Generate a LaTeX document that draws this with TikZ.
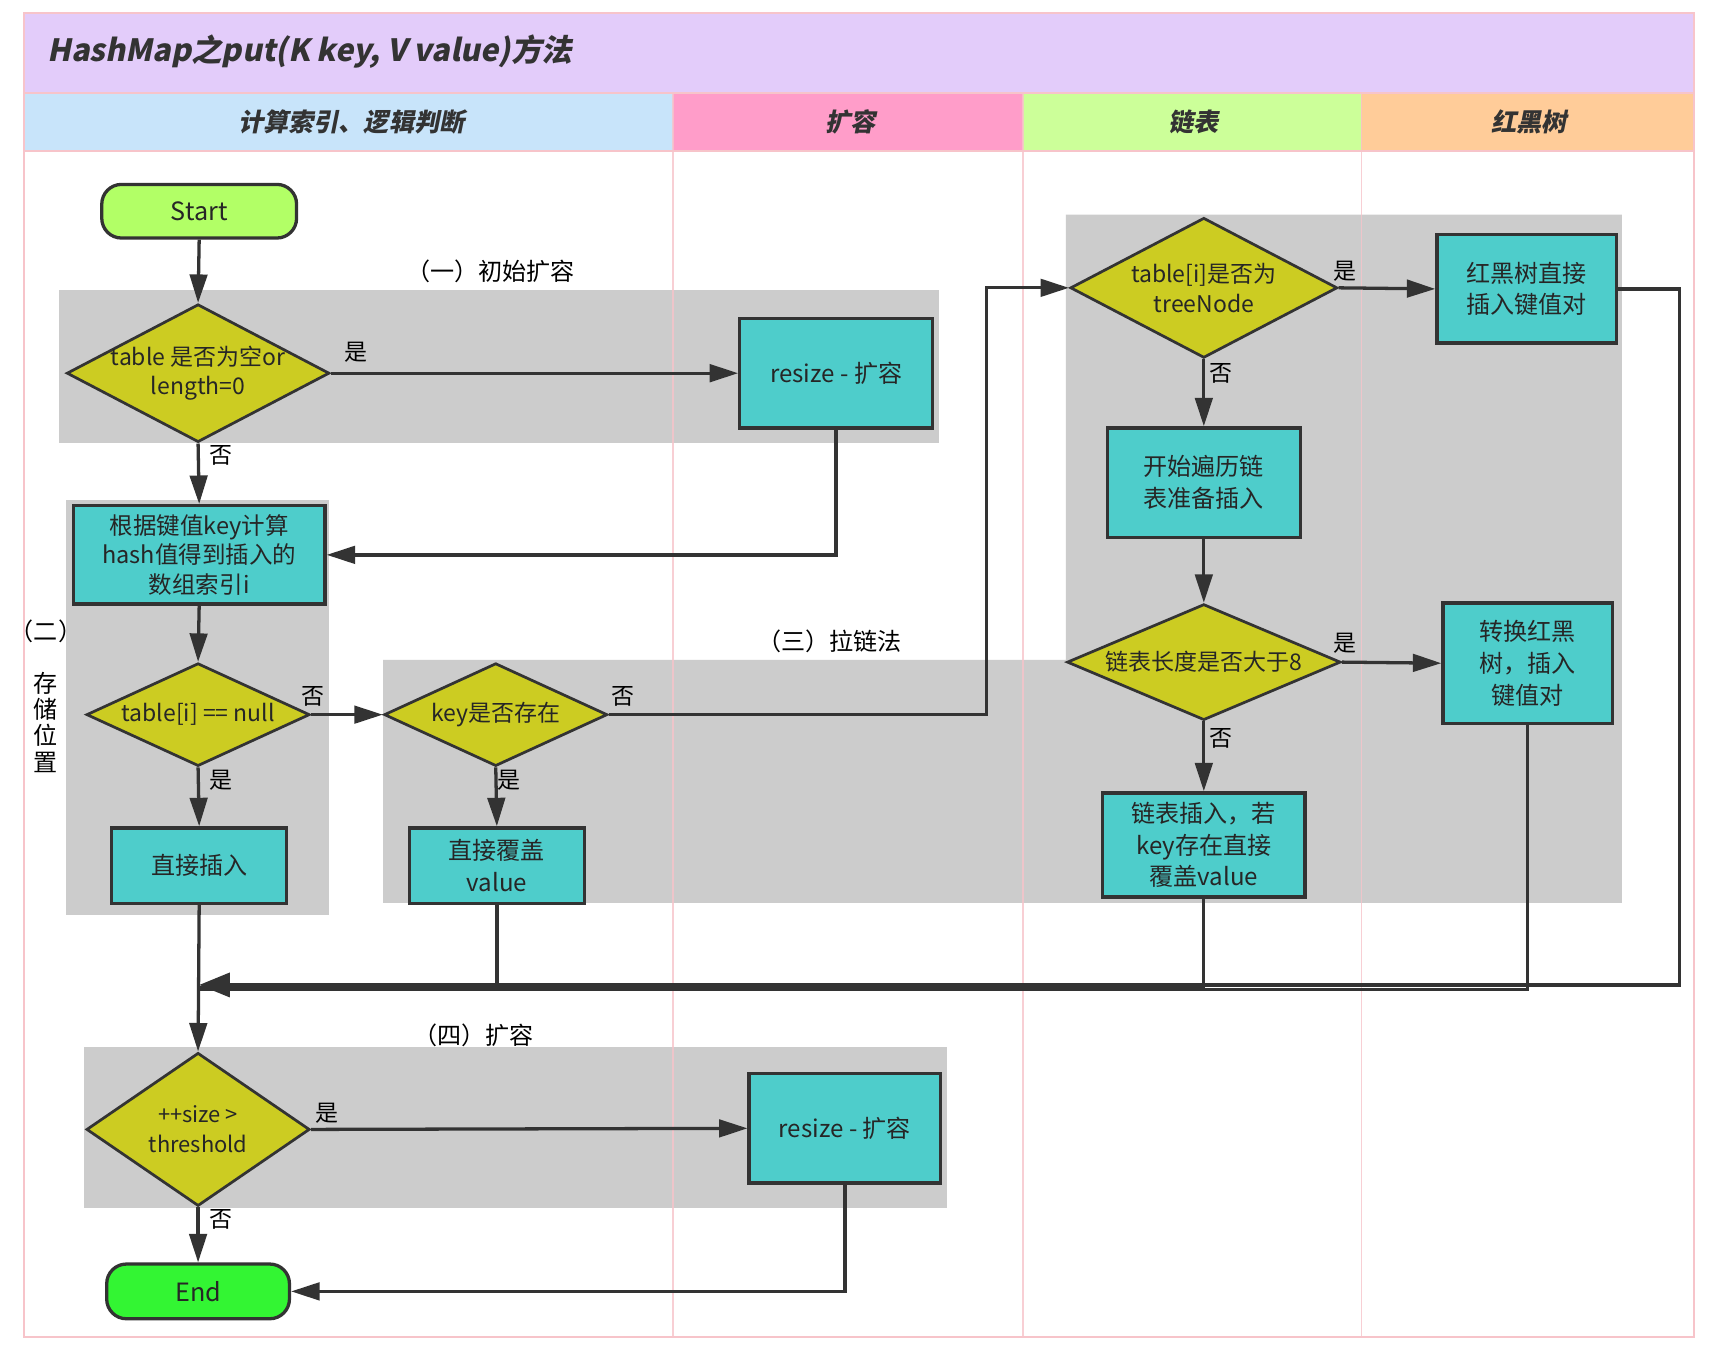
\documentclass[tikz,border=0pt]{standalone}
\usepackage{fontspec}
\setmainfont{Noto Sans CJK SC}
\newfontfamily\slfont[FakeSlant=0.2]{Noto Sans CJK SC}
\usetikzlibrary{shapes.geometric,arrows.meta,calc}
\definecolor{titlec}{HTML}{E3CCFA}
\definecolor{hA}{HTML}{C8E4FA}
\definecolor{hB}{HTML}{FF9DC9}
\definecolor{hC}{HTML}{CCFF99}
\definecolor{hD}{HTML}{FFCC99}
\definecolor{framec}{HTML}{F7C4CA}
\definecolor{grayc}{HTML}{CCCCCC}
\definecolor{diac}{HTML}{CCCC22}
\definecolor{boxc}{HTML}{4ECDCB}
\definecolor{startc}{HTML}{B2FF66}
\definecolor{endc}{HTML}{33F533}
\definecolor{linec}{HTML}{333333}
\tikzset{
 dia/.style={diamond, draw=linec, fill=diac, line width=2.5pt, inner sep=0pt},
 dtext/.style={align=center, font=\fontsize{21}{27}\selectfont, inner sep=0pt, text=black!85},
 box/.style={rectangle, draw=linec, fill=boxc, line width=3pt, align=center, font=\fontsize{22}{29}\selectfont, inner sep=2pt, text=black!85},
 term/.style={rectangle, rounded corners=18pt, draw=linec, line width=3pt, font=\fontsize{23}{26}\selectfont, text=black!85},
 arr/.style={draw=linec, line width=3pt, -{Triangle[length=26pt,width=16pt]}},
 bigarr/.style={draw=linec, line width=3pt, -{Triangle[length=28pt,width=22pt]}},
 conn/.style={draw=linec, line width=3pt},
 lbl/.style={font=\fontsize{21}{24}\selectfont, inner sep=0pt},
 grp/.style={fill=grayc},
 sec/.style={font=\fontsize{22}{24}\selectfont, inner sep=0pt},
 hdr/.style={font=\slfont\bfseries\fontsize{23}{26}\selectfont, text=black!80},
}
\begin{document}
\begin{tikzpicture}[x=1pt,y=-1pt]
\useasboundingbox (0,0) rectangle (1568,1243);
\fill[white] (0,0) rectangle (1568,1243);
% title and headers
\fill[titlec] (22,12) rectangle (1548,85);
\fill[hA] (22,85) rectangle (615,138);
\fill[hB] (615,85) rectangle (935,138);
\fill[hC] (935,85) rectangle (1244,138);
\fill[hD] (1244,85) rectangle (1548,138);
\node[anchor=west, font=\slfont\bfseries\fontsize{28}{32}\selectfont, text=black!80] (title) at (40,47) {HashMap之put(K key, V value)方法};
\node[hdr] (hdrA) at (321,111) {计算索引、逻辑判断};
\node[hdr] (hdrB) at (777,111) {扩容};
\node[hdr] (hdrC) at (1091,111) {链表};
\node[hdr] (hdrD) at (1397,111) {红黑树};
% gray groups
\fill[grp] (54,265) rectangle (858,405);
\fill[grp] (60,457) rectangle (301,836);
\fill[grp] (974,196) -- (1482,196) -- (1482,825) -- (350,825) -- (350,603) -- (974,603) -- cycle;
\fill[grp] (77,957) rectangle (865,1104);
% lane lines and frame
\draw[framec, line width=1.5pt] (22,85) -- (1548,85);
\draw[framec, line width=1.5pt] (22,138) -- (1548,138);
\foreach \xx in {615,935,1244} \draw[framec, line width=1.5pt, opacity=0.8] (\xx,85) -- (\xx,1222);
\draw[framec, line width=2pt] (22,12) rectangle (1548,1222);
% section labels
\node[sec] (s1) at (448,248) {（一）初始扩容};
\node[sec] (s2) at (42,577) {（二）};
\node[sec, align=center, font=\fontsize{22}{24}\selectfont] (s2b) at (42,660) {存\\储\\位\\置};
\node[sec] (s3) at (758,586) {（三）拉链法};
\node[sec] (s4) at (433,946) {（四）扩容};
% nodes
\node[term, fill=startc, minimum width=178pt, minimum height=49pt] (start) at (182,193) {Start};
\node[dia, minimum width=240pt, minimum height=126pt] (d1) at (181,341) {};
\node[dtext] (d1t) at (d1.center) {table 是否为空or\\length=0};
\node[box, minimum width=176pt, minimum height=100pt] (r1) at (764,341) {resize - 扩容};
\node[box, minimum width=230pt, minimum height=90pt, font=\fontsize{21.5}{27}\selectfont] (b1) at (182,507) {根据键值key计算\\hash值得到插入的\\数组索引i};
\node[dia, minimum width=204pt, minimum height=94pt] (d2) at (181,653) {};
\node[dtext] (d2t) at (d2.center) {table[i] == null};
\node[box, minimum width=160pt, minimum height=69pt] (b2) at (182,791) {直接插入};
\node[dia, minimum width=204pt, minimum height=94pt] (d3) at (453,653) {};
\node[dtext] (d3t) at (d3.center) {key是否存在};
\node[box, minimum width=160pt, minimum height=69pt] (b3) at (454,791) {直接覆盖\\value};
\node[dia, minimum width=244pt, minimum height=128pt] (d4) at (1100,263) {};
\node[dtext] (d4t) at (d4.center) {table[i]是否为\\treeNode};
\node[box, minimum width=164pt, minimum height=99pt] (b4) at (1395,264) {红黑树直接\\插入键值对};
\node[box, minimum width=176pt, minimum height=100pt] (b5) at (1100,441) {开始遍历链\\表准备插入};
\node[dia, minimum width=250pt, minimum height=106pt] (d5) at (1100,605) {};
\node[dtext] (d5t) at (d5.center) {链表长度是否大于8};
\node[box, minimum width=155pt, minimum height=110pt] (b6) at (1396,606) {转换红黑\\树，插入\\键值对};
\node[box, minimum width=185pt, minimum height=95pt] (b7) at (1100,772) {链表插入，若\\key存在直接\\覆盖value};
\node[dia, minimum width=204pt, minimum height=140pt] (d6) at (181,1032) {};
\node[dtext, font=\fontsize{20}{27}\selectfont] (d6t) at (d6.center) {++size >\\threshold};
\node[box, minimum width=175pt, minimum height=100pt] (r2) at (772,1031) {resize - 扩容};
\node[term, fill=endc, minimum width=167pt, minimum height=50pt] (end) at (181,1180) {End};
\coordinate (m) at (182,900);
% connectors
\draw[arr] (start.south) -- (d1.north);
\draw[arr] (d1.east) -- (r1.west);
\draw[arr] (d1.south) -- (b1.north);
\draw[arr] (r1.south) |- (b1.east);
\draw[arr] (b1.south) -- (d2.north);
\draw[arr] (d2.south) -- (b2.north);
\draw[arr] (d2.east) -- (d3.west);
\draw[arr] (d3.south) -- (b3.north);
\draw[arr] (d3.east) -- ++(345,0) |- (d4.west);
\draw[arr] (d4.east) -- (b4.west);
\draw[arr] (d4.south) -- (b5.north);
\draw[arr] (b5.south) -- (d5.north);
\draw[arr] (d5.east) -- (b6.west);
\draw[arr] (d5.south) -- (b7.north);
\draw[conn] (b6.south) |- ([yshift=-4pt]m);
\draw[conn] (b7.south) |- ([yshift=-2pt]m);
\draw[conn] (b3.south) -- (b3.south |- m);
\draw[bigarr] (b4.east) -- ++(56,0) |- (m);
\draw[arr] (b2.south) -- (d6.north);
\draw[arr] (d6.east) -- (r2.west);
\draw[arr] (d6.south) -- (end.north);
\draw[arr] (r2.south) |- (end.east);
% edge labels
\node[lbl] (l1) at (325,322) {是};
\node[lbl] (l2) at (202,416) {否};
\node[lbl] (l3) at (286,636) {否};
\node[lbl] (l4) at (202,713) {是};
\node[lbl] (l5) at (569,636) {否};
\node[lbl] (l6) at (465,713) {是};
\node[lbl] (l7) at (1229,248) {是};
\node[lbl] (l8) at (1116,341) {否};
\node[lbl] (l9) at (1229,588) {是};
\node[lbl] (l10) at (1116,675) {否};
\node[lbl] (l11) at (299,1017) {是};
\node[lbl] (l12) at (202,1114) {否};
\end{tikzpicture}
\end{document}
